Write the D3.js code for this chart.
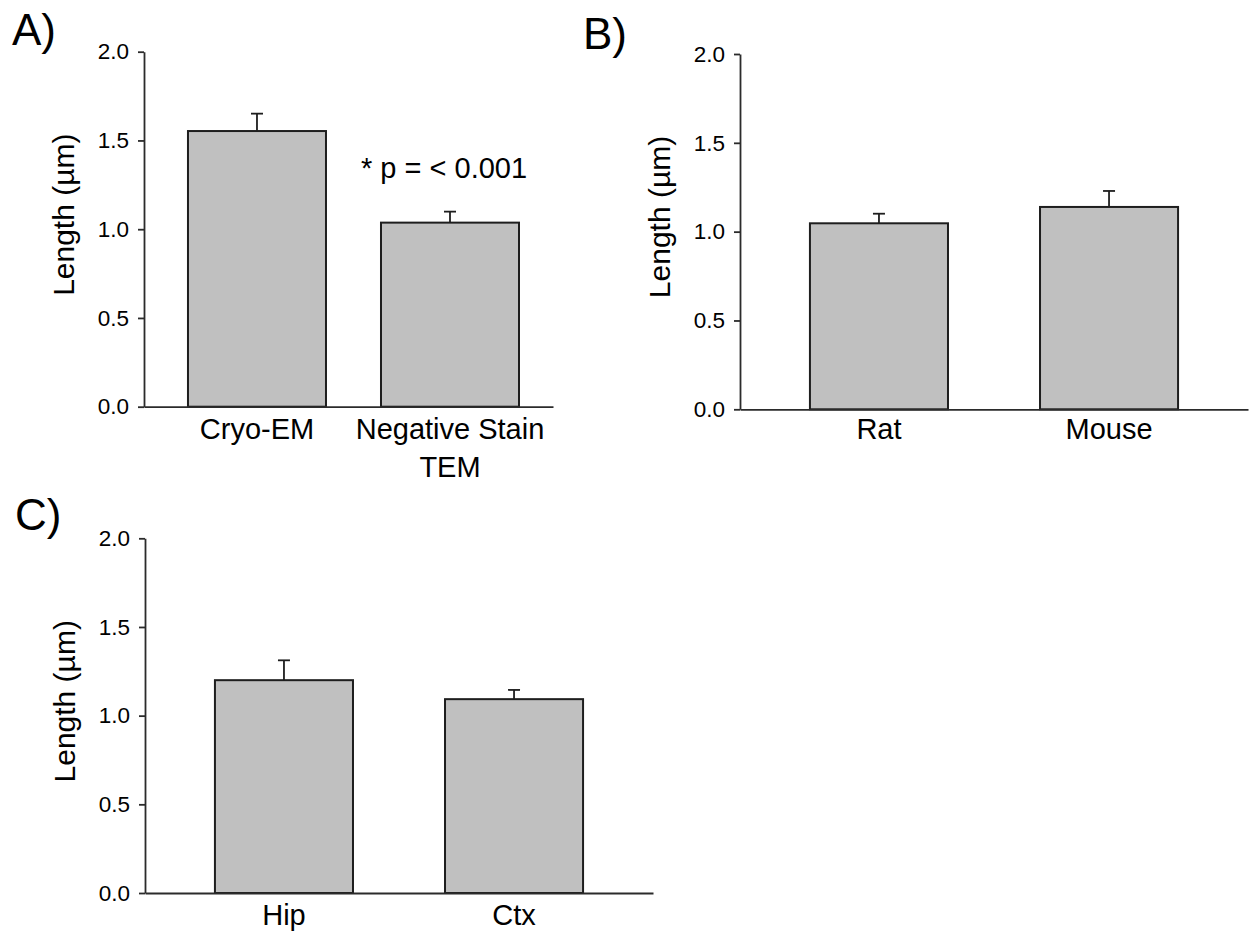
<!DOCTYPE html>
<html>
<head>
<meta charset="utf-8">
<script src="https://cdn.jsdelivr.net/npm/d3@7"></script>
<style>
  html, body { margin: 0; padding: 0; background: #ffffff; }
  svg { display: block; }
  text { font-family: "Liberation Sans", Arial, sans-serif; fill: #000; }
</style>
</head>
<body>
<svg id="chart" width="1252" height="933"></svg>
<script>
// ---- data ----
const categoriesA = ["Cryo-EM", "Negative Stain\nTEM"];
const valuesA = [1.553, 1.037];
const errorsA = [0.098, 0.062];

const categoriesB = ["Rat", "Mouse"];
const valuesB = [1.047, 1.139];
const errorsB = [0.054, 0.090];

const categoriesC = ["Hip", "Ctx"];
const valuesC = [1.200, 1.093];
const errorsC = [0.112, 0.052];

const yTickValues = [0.0, 0.5, 1.0, 1.5, 2.0];
const yDomain = [0, 2.0];
const yAxisTitle = "Length (\u00B5m)";
const annotationA = "* p = < 0.001";

// ---- layout ----
const panels = [
  { label: "A)", labelX: 12, labelY: 45, cats: categoriesA, vals: valuesA, errs: errorsA,
    x0: 144, x1: 553, yTop: 51.7, yBot: 406.7, pIn: 0.285, pOut: 0.202, align: 0.564,
    xPad: 12, note: annotationA, noteX: 361, noteY: 178 },
  { label: "B)", labelX: 583, labelY: 49, cats: categoriesB, vals: valuesB, errs: errorsB,
    x0: 740, x1: 1248, yTop: 54, yBot: 409.3, pIn: 0.4, pOut: 0.304, align: 0.5, xPad: 9 },
  { label: "C)", labelX: 15, labelY: 530, cats: categoriesC, vals: valuesC, errs: errorsC,
    x0: 145, x1: 653, yTop: 538.3, yBot: 893, pIn: 0.4, pOut: 0.304, align: 0.5, xPad: 11 }
];

const svg = d3.select("#chart");
const axisColor = "#2b2b2b";
const fontFam = "'Liberation Sans', Arial, sans-serif";

panels.forEach(p => {
  const g = svg.append("g");

  const x = d3.scaleBand().domain(p.cats).range([p.x0, p.x1])
    .paddingInner(p.pIn).paddingOuter(p.pOut).align(p.align);
  const y = d3.scaleLinear().domain(yDomain).range([p.yBot, p.yTop]);

  // bars
  g.selectAll("rect.bar").data(p.cats).join("rect")
    .attr("class", "bar")
    .attr("x", d => x(d))
    .attr("width", x.bandwidth())
    .attr("y", (d, i) => y(p.vals[i]))
    .attr("height", (d, i) => y(0) - y(p.vals[i]))
    .attr("fill", "#c0c0c0")
    .attr("stroke", "#1e1e1e")
    .attr("stroke-width", 2);

  // error bars
  const capW = 12;
  p.cats.forEach((d, i) => {
    const cx = x(d) + x.bandwidth() / 2;
    g.append("line")
      .attr("x1", cx).attr("x2", cx)
      .attr("y1", y(p.vals[i])).attr("y2", y(p.vals[i] + p.errs[i]))
      .attr("stroke", "#1e1e1e").attr("stroke-width", 1.8);
    g.append("line")
      .attr("x1", cx - capW / 2).attr("x2", cx + capW / 2)
      .attr("y1", y(p.vals[i] + p.errs[i])).attr("y2", y(p.vals[i] + p.errs[i]))
      .attr("stroke", "#1e1e1e").attr("stroke-width", 1.8);
  });

  // y axis
  const yAxis = g.append("g")
    .attr("transform", `translate(${p.x0},0)`)
    .call(d3.axisLeft(y).tickValues(yTickValues).tickFormat(d3.format(".1f"))
      .tickSizeInner(6).tickSizeOuter(0).tickPadding(9));
  yAxis.select(".domain").attr("stroke", axisColor).attr("stroke-width", 1.8);
  yAxis.selectAll(".tick line").attr("stroke", axisColor).attr("stroke-width", 1.8);
  yAxis.selectAll(".tick text").attr("font-size", 22.5)
    .attr("font-family", fontFam).attr("fill", "#000");

  // x axis
  const xAxis = g.append("g")
    .attr("transform", `translate(0,${p.yBot})`)
    .call(d3.axisBottom(x).tickSize(0).tickPadding(p.xPad));
  xAxis.select(".domain").attr("stroke", axisColor).attr("stroke-width", 1.8);
  xAxis.selectAll(".tick text")
    .attr("font-size", 29)
    .attr("font-family", fontFam)
    .attr("fill", "#000")
    .each(function(d) {
      const lines = d.split("\n");
      const t = d3.select(this);
      t.text(null);
      lines.forEach((ln, k) => {
        t.append("tspan").attr("x", 0).attr("dy", k === 0 ? "0.71em" : "1.3em").text(ln);
      });
    })
    .attr("dy", null);

  // y title
  g.append("text")
    .attr("transform", `translate(${p.x0 - 70},${p.yTop + 163}) rotate(-90)`)
    .attr("text-anchor", "middle")
    .attr("font-size", 30)
    .text(yAxisTitle);

  // panel label
  g.append("text")
    .attr("x", p.labelX).attr("y", p.labelY)
    .attr("font-size", 44)
    .text(p.label);

  if (p.note) {
    g.append("text")
      .attr("x", p.noteX).attr("y", p.noteY)
      .attr("font-size", 29)
      .text(p.note);
  }
});
</script>
</body>
</html>
